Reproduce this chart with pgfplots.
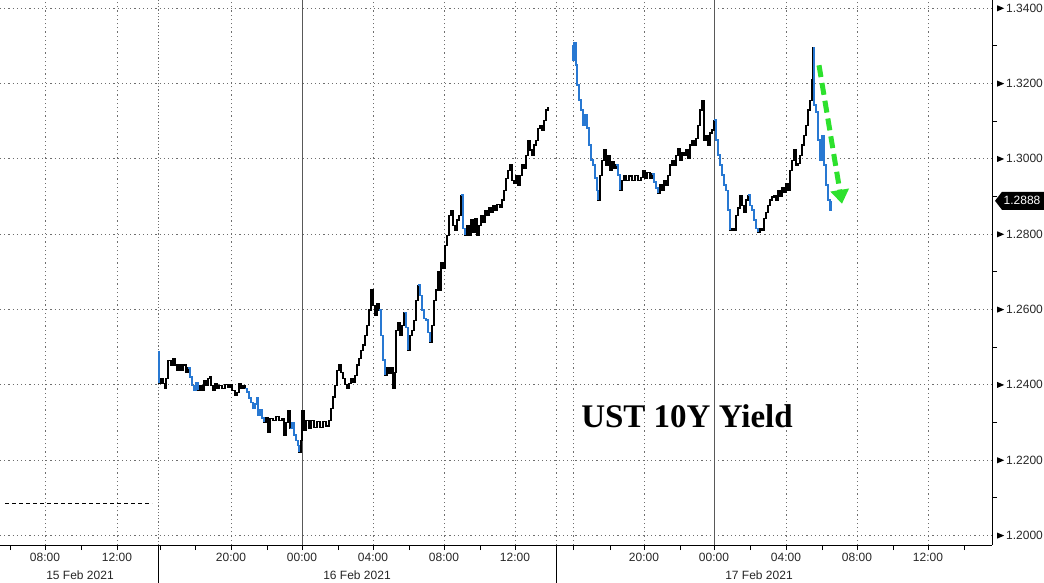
\documentclass[border=0pt]{standalone}
\usepackage{fontspec}
\setmainfont{Liberation Sans}
\newfontfamily\titlefont{Liberation Serif}
\usepackage{pgfplots}
\usepackage{pgfplotstable}
\pgfplotsset{compat=1.18}
\usetikzlibrary{arrows.meta}
\definecolor{lineblue}{RGB}{40,120,210}
\definecolor{gridc}{RGB}{110,110,110}
\definecolor{arrowgreen}{RGB}{45,225,45}

\pgfplotstableread{
x y
158 1.2486
159 1.2404
161 1.2417
163 1.2404
165 1.2390
166 1.2417
168 1.2465
171 1.2452
173 1.2470
175 1.2452
177 1.2438
179 1.2454
181 1.2438
183 1.2452
186 1.2433
188 1.2444
190 1.2420
192 1.2398
194 1.2385
196 1.2404
198 1.2385
200 1.2398
202 1.2385
204 1.2412
206 1.2398
208 1.2417
210 1.2422
211 1.2398
213 1.2385
215 1.2404
217 1.2390
219 1.2398
222 1.2390
225 1.2401
228 1.2393
230 1.2401
232 1.2385
235 1.2372
237 1.2380
239 1.2404
241 1.2390
243 1.2398
245 1.2390
247 1.2380
249 1.2364
251 1.2353
253 1.2337
255 1.2348
257 1.2364
258 1.2319
260 1.2332
262 1.2311
264 1.2300
266 1.2313
268 1.2274
270 1.2311
273 1.2305
276 1.2316
279 1.2305
282 1.2311
284 1.2266
286 1.2300
288 1.2332
290 1.2284
292 1.2300
294 1.2266
296 1.2252
298 1.2239
299 1.2220
301 1.2252
302 1.2332
304 1.2279
306 1.2305
309 1.2284
311 1.2305
314 1.2287
317 1.2303
320 1.2287
323 1.2303
326 1.2290
329 1.2305
331 1.2337
333 1.2367
335 1.2398
337 1.2438
339 1.2452
341 1.2433
343 1.2417
345 1.2401
347 1.2390
349 1.2404
351 1.2417
353 1.2406
355 1.2425
357 1.2452
359 1.2470
361 1.2491
363 1.2505
365 1.2531
367 1.2558
369 1.2598
371 1.2651
373 1.2611
375 1.2584
377 1.2616
379 1.2598
381 1.2531
383 1.2465
385 1.2425
387 1.2444
389 1.2430
391 1.2446
393 1.2390
395 1.2433
396 1.2544
398 1.2566
400 1.2531
402 1.2558
404 1.2592
406 1.2552
408 1.2491
410 1.2531
412 1.2544
414 1.2571
416 1.2624
418 1.2664
420 1.2637
422 1.2598
424 1.2576
426 1.2571
428 1.2539
430 1.2513
432 1.2558
434 1.2624
436 1.2651
438 1.2699
439 1.2651
441 1.2725
443 1.2709
445 1.2770
447 1.2797
449 1.2850
451 1.2863
453 1.2823
455 1.2810
457 1.2837
459 1.2850
461 1.2903
463 1.2815
465 1.2797
467 1.2823
469 1.2797
471 1.2837
473 1.2805
475 1.2842
477 1.2797
479 1.2823
481 1.2850
483 1.2831
485 1.2863
487 1.2850
489 1.2869
491 1.2858
493 1.2876
495 1.2863
497 1.2879
500 1.2871
502 1.2890
504 1.2916
506 1.2948
508 1.2969
510 1.2983
512 1.2943
514 1.2935
516 1.2956
518 1.2930
520 1.2956
522 1.2983
524 1.2975
526 1.3009
528 1.3049
530 1.3023
532 1.3009
534 1.3036
536 1.3049
538 1.3081
540 1.3089
542 1.3076
544 1.3102
546 1.3129
548 1.3137
550 nan
572 1.3301
573 1.3262
574 1.3307
576 1.3248
577 1.3195
579 1.3155
581 1.3129
583 1.3089
585 1.3116
587 1.3081
589 1.3036
591 1.2996
593 1.2983
595 1.2948
597 1.2916
598 1.2890
600 1.2956
602 1.2996
604 1.3023
606 1.2983
608 1.3009
610 1.2969
612 1.2991
614 1.2975
616 1.2983
618 1.2956
620 1.2916
622 1.2943
624 1.2956
626 1.2943
629 1.2954
632 1.2943
635 1.2956
638 1.2943
641 1.2951
643 1.2969
645 1.2948
647 1.2964
650 1.2948
652 1.2959
654 1.2938
656 1.2922
658 1.2908
660 1.2930
662 1.2916
664 1.2943
666 1.2930
668 1.2956
670 1.2983
672 1.2996
674 1.2983
676 1.3009
678 1.3028
680 1.2996
682 1.3017
684 1.3009
686 1.3023
688 1.3001
690 1.3036
692 1.3049
694 1.3036
696 1.3054
698 1.3089
700 1.3129
702 1.3155
704 1.3049
706 1.3062
708 1.3036
710 1.3068
712 1.3076
714 1.3102
716 1.3049
718 1.3009
720 1.2983
722 1.2956
724 1.2930
726 1.2916
728 1.2863
730 1.2810
732 1.2815
734 1.2810
736 1.2850
738 1.2869
740 1.2903
742 1.2876
744 1.2858
746 1.2890
748 1.2903
750 1.2876
752 1.2863
754 1.2837
756 1.2815
758 1.2805
760 1.2815
762 1.2810
764 1.2842
766 1.2858
768 1.2876
770 1.2890
772 1.2898
774 1.2903
776 1.2890
778 1.2916
780 1.2900
782 1.2922
784 1.2911
786 1.2935
788 1.2916
790 1.2969
792 1.2996
794 1.3023
796 1.2983
798 1.2988
800 1.3009
802 1.3036
804 1.3062
806 1.3089
808 1.3129
810 1.3155
812 1.3209
813 1.3294
814 1.3142
816 1.3124
818 1.3049
820 1.2996
822 1.3062
824 1.2983
826 1.2930
828 1.2890
830 1.2863
831 1.2888
}\ust

\begin{document}
\begin{tikzpicture}
\path[use as bounding box] (0,-37pt) rectangle (1044pt,545pt);
\begin{axis}[
  at={(0,0)}, anchor=south west,
  scale only axis, width=992pt, height=545pt,
  xmin=0, xmax=992, ymin=1.1974, ymax=1.3421,
  axis x line*=bottom, axis y line*=right,
  axis line style={-, black, line width=0.9pt},
  clip=false,
  unbounded coords=jump,
  /pgf/number format/assume math mode=true,
  tick label style={font=\fontsize{12}{14}\selectfont, color=black!85},
  xtick={45,117,231,302,373,444,515,644,714,786,857,928},
  xticklabels={08:00,12:00,20:00,00:00,04:00,08:00,12:00,20:00,00:00,04:00,08:00,12:00},
  minor xtick={10,81,160,195,267,338,409,480,573,610,680,750,822,893,964},
  tick align=outside,
  major tick length=5pt, minor tick length=5pt,
  every tick/.style={black, line width=0.6pt},
  ytick={1.20,1.22,1.24,1.26,1.28,1.30,1.32,1.34},
  minor ytick={1.21,1.23,1.25,1.27,1.29,1.31,1.33},
  major y tick style={draw=none},
  yticklabel={\tikz[baseline=-0.6ex]\fill[black](0,-3pt)--(7pt,0)--(0,3pt)--cycle;\hspace{2pt}\pgfmathprintnumber[fixed,fixed zerofill,precision=4]{\tick}},
  yticklabel style={anchor=west, inner sep=0pt},
  xticklabel style={inner sep=1pt, yshift=-2pt},
  xmajorgrids, ymajorgrids,
  major grid style={gridc, line width=0.6pt, dash pattern=on 1.2pt off 3pt},
]
% extra vertical guides
\draw[gridc, line width=0.6pt, dash pattern=on 1.2pt off 2pt] (axis cs:158,1.1974) -- (axis cs:158,1.3421);
\draw[gridc, line width=0.6pt, dash pattern=on 1.2pt off 3pt] (axis cs:556,1.1974) -- (axis cs:556,1.3421);
\draw[gridc, line width=0.6pt, dash pattern=on 1.2pt off 3pt] (axis cs:573,1.1974) -- (axis cs:573,1.3421);
\draw[black!65, line width=0.8pt] (axis cs:302,1.1974) -- (axis cs:302,1.3421);
\draw[black!65, line width=0.8pt] (axis cs:714,1.1974) -- (axis cs:714,1.3421);
% date separators
\draw[black, line width=0.8pt] (axis cs:158,1.1974) -- ++(0,-37pt);
\draw[black, line width=0.8pt] (axis cs:556,1.1974) -- ++(0,-37pt);
% previous close reference
\addplot[black, line width=0.8pt, dash pattern=on 4pt off 3pt] coordinates {(5,1.2085) (152,1.2085)};
% series
\addplot[const plot, black, line width=1.15pt] table[x=x,y=y] {\ust};
\addplot[const plot, lineblue, line width=1.5pt, restrict x to domain=158:159.5] table[x=x,y=y] {\ust};
\addplot[const plot, lineblue, line width=1.5pt, restrict x to domain=188:198] table[x=x,y=y] {\ust};
\addplot[const plot, lineblue, line width=1.5pt, restrict x to domain=245:264] table[x=x,y=y] {\ust};
\addplot[const plot, lineblue, line width=1.5pt, restrict x to domain=290:299] table[x=x,y=y] {\ust};
\addplot[const plot, lineblue, line width=1.5pt, restrict x to domain=379:386] table[x=x,y=y] {\ust};
\addplot[const plot, lineblue, line width=1.5pt, restrict x to domain=404:409] table[x=x,y=y] {\ust};
\addplot[const plot, lineblue, line width=1.5pt, restrict x to domain=418:431] table[x=x,y=y] {\ust};
\addplot[const plot, lineblue, line width=1.5pt, restrict x to domain=461:466] table[x=x,y=y] {\ust};
\addplot[const plot, lineblue, line width=1.5pt, restrict x to domain=572:598] table[x=x,y=y] {\ust};
\addplot[const plot, lineblue, line width=1.5pt, restrict x to domain=616:621] table[x=x,y=y] {\ust};
\addplot[const plot, lineblue, line width=1.5pt, restrict x to domain=652:658] table[x=x,y=y] {\ust};
\addplot[const plot, lineblue, line width=1.5pt, restrict x to domain=714:731] table[x=x,y=y] {\ust};
\addplot[const plot, lineblue, line width=1.5pt, restrict x to domain=748:758] table[x=x,y=y] {\ust};
\addplot[const plot, lineblue, line width=1.5pt, restrict x to domain=813:831] table[x=x,y=y] {\ust};
% date labels
\node[font=\fontsize{12}{14}\selectfont, text=black!85] at (axis cs:80,1.1974) [yshift=-30pt] {15 Feb 2021};
\node[font=\fontsize{12}{14}\selectfont, text=black!85] at (axis cs:357,1.1974) [yshift=-30pt] {16 Feb 2021};
\node[font=\fontsize{12}{14}\selectfont, text=black!85] at (axis cs:759,1.1974) [yshift=-30pt] {17 Feb 2021};
% last value tag
\fill[black] (axis cs:995,1.2888) -- (axis cs:1002,1.2912) -- (axis cs:1044,1.2912) -- (axis cs:1044,1.2864) -- (axis cs:1002,1.2864) -- cycle;
\node[text=white, font=\fontsize{12}{14}\selectfont, inner sep=0pt] at (axis cs:1022,1.2888) {1.2888};
% title
\node[font=\titlefont\bfseries\fontsize{33}{36}\selectfont, text=black] at (axis cs:687,1.2316) {UST 10Y Yield};
% green arrow
\draw[arrowgreen, line width=5pt, dash pattern=on 12pt off 6pt, -{Triangle[length=14pt,width=18pt]}] (axis cs:819,1.3248) -- (axis cs:842,1.2880);
\end{axis}
\end{tikzpicture}
\end{document}
